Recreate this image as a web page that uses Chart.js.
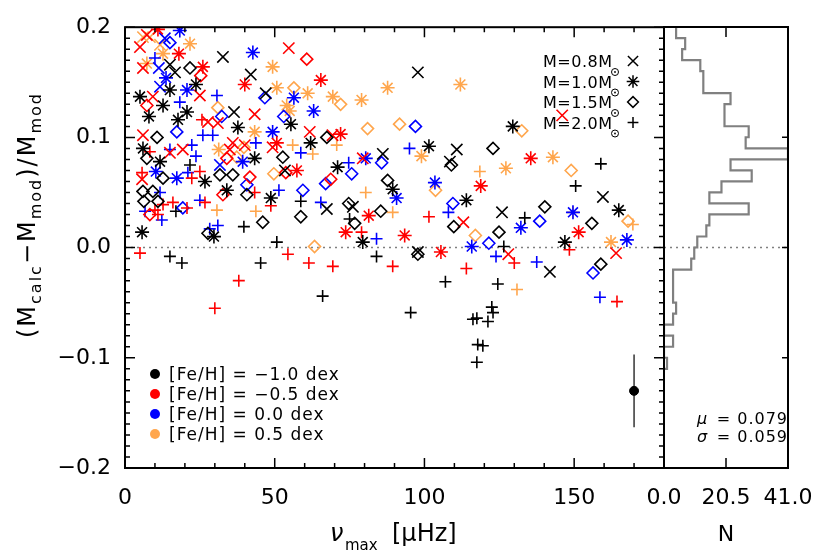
<!DOCTYPE html>
<html>
<head>
<meta charset="utf-8">
<script src="https://cdn.jsdelivr.net/npm/chart.js@4.4.1/dist/chart.umd.min.js"></script>
<style>
  html, body { margin: 0; padding: 0; background: #fff; }
  #wrap { position: relative; width: 830px; height: 553px; }
  .layer { position: absolute; left: 0; top: 0; width: 830px; height: 553px; }
</style>
</head>
<body>
<div id="wrap">
  <div class="layer"><canvas id="mainChart"></canvas></div>
  <div class="layer"><canvas id="histChart"></canvas></div>
</div>
<script>
// [nu_max (muHz), (Mcalc - Mmod)/Mmod] per [Fe/H] and model mass
const fehLabels = ['−1.0', '−0.5', '0.0', '0.5'];
const massLabels = ['0.8', '1.0', '1.5', '2.0'];

// [Fe/H] = -1.0 (black)
const fehM10_m08 = [[32.7,0.173],[15,0.166],[16.7,0.159],[42,0.157],[47,0.140],[36.4,0.123],[97.8,0.159],[86.1,0.085],[110.8,0.089],[108.5,0.078],[53.4,0.070],[67.4,0.035],[76.1,0.037],[97.8,-0.004],[159.6,0.046],[125.9,0.032],[141.9,-0.022]];
const fehM10_m10 = [[5,0.137],[15,0.143],[23.7,0.148],[8,0.119],[20.7,0.123],[17.7,0.116],[37.7,0.109],[6,0.090],[11.7,0.078],[43.3,0.081],[26.7,0.060],[34,0.052],[48.7,0.045],[5.7,0.014],[29.7,0.010],[55.4,0.112],[62,0.095],[71,0.073],[89.4,0.053],[79.4,0.005],[101.5,0.092],[114,0.043],[129.5,0.110],[146.9,0.005],[164.9,0.034],[12.7,0.129]];
const fehM10_m15 = [[21.7,0.163],[10.7,0.100],[7.3,0.081],[12.7,0.063],[31.7,0.066],[36,0.066],[6,0.051],[9.3,0.051],[6.3,0.042],[11,0.042],[40.7,0.048],[46,0.023],[27.7,0.013],[67.4,0.100],[52.7,0.082],[87.7,0.061],[74.7,0.040],[85.4,0.033],[58.7,0.028],[76.7,0.022],[109,0.075],[109.8,0.019],[97.8,-0.006],[122.9,0.090],[140.2,0.037],[124.9,0.014],[155.9,0.022],[158.9,-0.015]];
const fehM10_m20 = [[21.7,0.075],[17,0.033],[39.7,0.019],[50.7,0.005],[15,-0.008],[19,-0.014],[45.3,-0.014],[58.7,0.042],[75,0.026],[66,-0.044],[84,-0.008],[95.4,-0.059],[107,-0.031],[126.5,0.001],[124.5,-0.033],[122.5,-0.054],[122.9,-0.059],[116.2,-0.065],[117.5,-0.064],[121.2,-0.067],[117.8,-0.088],[119.5,-0.089],[117.5,-0.104],[133.5,0.027],[150.5,0.056],[158.9,0.076]];

// [Fe/H] = -0.5 (red)
const fehM05_m08 = [[5,0.182],[7.3,0.193],[6,0.163],[54.7,0.181],[9.3,0.137],[25,0.138],[43.3,0.121],[27.7,0.114],[31,0.113],[6,0.102],[15,0.086],[19.3,0.089],[35,0.089],[36,0.095],[40,0.093],[49.3,0.091],[5.7,0.062],[61.7,0.105],[69.3,0.102],[79.4,0.081],[113,0.023],[128,-0.006],[164,-0.005],[146,0.120]];
const fehM05_m10 = [[11,0.198],[18,0.176],[26,0.164],[40,0.148],[65.4,0.152],[72,0.103],[50.7,0.095],[57.4,0.070],[81.4,0.029],[73.7,0.014],[93.4,0.011],[105.5,-0.004],[135.5,0.081],[118.8,0.056],[151.5,0.014]];
const fehM05_m15 = [[60.7,0.171],[25.3,0.156],[7.3,0.129],[34,0.081],[41.7,0.064],[32.7,0.048],[8.3,0.030],[53.7,0.068],[68.7,0.062]];
const fehM05_m20 = [[25.7,0.116],[8.3,0.087],[5.7,0.068],[25,0.069],[22.3,0.063],[43.3,0.050],[26.7,0.041],[16,0.041],[12.7,0.039],[20.7,0.036],[10,0.034],[11,0.030],[48.7,0.038],[5,-0.005],[38,-0.030],[30,-0.055],[54.4,-0.006],[61.4,-0.014],[69.4,-0.017],[89.4,-0.017],[79,0.014],[101.5,0.028],[114,-0.019],[130,-0.014],[148.4,-0.002],[164.3,-0.049]];

// [Fe/H] = 0.0 (blue)
const feh00_m08 = [[13.3,0.190],[11.3,0.163],[11.7,0.146],[31.7,0.075]];
const feh00_m10 = [[18.3,0.197],[42.7,0.177],[13.7,0.154],[20.7,0.143],[39.3,0.078],[10.3,0.069],[17.3,0.063],[49.3,0.105],[56.4,0.136],[63,0.124],[80.4,0.081],[90.7,0.045],[103.5,0.059],[115.8,0.001],[132.2,0.018],[149.6,0.032],[167.6,0.007]];
const feh00_m15 = [[15,0.186],[46.7,0.136],[32.3,0.119],[17.3,0.105],[40.7,0.057],[19.3,0.036],[53,0.119],[97,0.110],[85.7,0.077],[75.7,0.067],[67,0.058],[59.4,0.052],[109.5,0.040],[138.5,0.024],[121.5,0.004],[156.3,-0.023]];
const feh00_m20 = [[10,0.172],[18.3,0.132],[30.7,0.138],[26,0.102],[29.3,0.102],[15,0.089],[22.3,0.093],[43.7,0.095],[23.7,0.083],[21,0.068],[11.7,0.050],[25,0.043],[6.7,0.033],[12.3,0.025],[28.3,0.017],[31,0.020],[58.7,0.086],[74.7,0.077],[51.4,0.052],[65.4,0.041],[84,0.008],[95,0.090],[108,0.032],[123.9,-0.008],[137.5,-0.013],[158.6,-0.045]];

// [Fe/H] = +0.5 (orange)
const fehP05_m08 = [[6,0.191],[8.3,0.191],[11.7,0.184]];
const fehP05_m10 = [[12.7,0.176],[7.3,0.167],[21.7,0.185],[49.3,0.164],[50.7,0.145],[61,0.140],[69.4,0.137],[79,0.134],[87.7,0.145],[112,0.148],[54,0.129],[55,0.124],[43.3,0.105],[31.3,0.089],[99,0.083],[127.2,0.072],[142.9,0.082],[162.3,0.005]];
const fehP05_m15 = [[56.4,0.145],[72,0.130],[81,0.108],[91.7,0.112],[49.7,0.067],[103.7,0.052],[63.3,0.001],[39.7,0.091],[37.3,0.082],[31,0.127],[132.5,0.106],[149,0.070],[168,0.024],[117,0.011]];
const fehP05_m20 = [[56,0.093],[70.7,0.093],[62.7,0.085],[80.4,0.050],[89.4,0.032],[30.7,0.034],[43.7,0.033],[118.5,0.069],[130.9,-0.038],[169.6,0.021],[149.6,0.032]];

// typical error bar
const errNu = 170;
const errDm = -0.130;
const errSize = 0.033;

// histogram of (Mcalc-Mmod)/Mmod, bins of 0.01, listed by upper edge
const histBinTop = [0.20,0.19,0.18,0.17,0.16,0.15,0.14,0.13,0.12,0.11,0.10,0.09,0.08,0.07,0.06,0.05,0.04,0.03,0.02,0.01,0.00,-0.01,-0.02,-0.03,-0.04,-0.05,-0.06,-0.07,-0.08,-0.09,-0.10];
const histCounts = [4,7,6,12,13,13,22,20,20,28,27,41,22,29,19,15,28,15,14,11,10,9,3,3,3,4,3,0,3,0,1];
const histMean = '0.079';
const histSigma = '0.059';

const FONT = "'DejaVu Sans'";
const fehColors = ['#000000', '#ff0000', '#0000ff', '#ffa64d'];
const massStyles = [
    { style: 'crossRot', radius: 8 },
    { style: 'star', radius: 7 },
    { style: 'rectRot', radius: 6 },
    { style: 'cross', radius: 6 }
];
const groups = [
    [fehM10_m08, fehM10_m10, fehM10_m15, fehM10_m20],
    [fehM05_m08, fehM05_m10, fehM05_m15, fehM05_m20],
    [feh00_m08, feh00_m10, feh00_m15, feh00_m20],
    [fehP05_m08, fehP05_m10, fehP05_m15, fehP05_m20]
];

const scatterSets = [];
groups.forEach((row, f) => {
    row.forEach((arr, m) => {
        scatterSets.push({
            label: '[Fe/H]=' + fehLabels[f] + ' M=' + massLabels[m],
            data: arr.map(p => ({ x: p[0], y: p[1] })),
            pointStyle: massStyles[m].style,
            pointRadius: massStyles[m].radius,
            pointBorderWidth: 1.6,
            borderColor: fehColors[f],
            backgroundColor: 'rgba(0,0,0,0)',
            showLine: false
        });
    });
});

// frame with inward ticks
const framePlugin = {
    id: 'frame',
    afterDatasetsDraw(chart, args, opts) {
        const { ctx, chartArea: a } = chart;
        const x = chart.scales.x, y = chart.scales.y;
        ctx.save();
        ctx.strokeStyle = '#000';
        ctx.lineWidth = 1.5;
        ctx.beginPath();
        (opts.xTicks || []).forEach(t => {
            const px = x.getPixelForValue(t[0]);
            ctx.moveTo(px, a.bottom); ctx.lineTo(px, a.bottom - t[1]);
            ctx.moveTo(px, a.top); ctx.lineTo(px, a.top + t[1]);
        });
        (opts.yTicksLeft || []).forEach(t => {
            const py = y.getPixelForValue(t[0]);
            ctx.moveTo(a.left, py); ctx.lineTo(a.left + t[1], py);
        });
        (opts.yTicksRight || []).forEach(t => {
            const py = y.getPixelForValue(t[0]);
            ctx.moveTo(a.right, py); ctx.lineTo(a.right - t[1], py);
        });
        ctx.stroke();
        ctx.lineWidth = 2;
        ctx.strokeRect(a.left, a.top, a.right - a.left, a.bottom - a.top);
        ctx.restore();
    }
};

function drawRun(ctx, parts, x, y) {
    let cx = x;
    parts.forEach(([t, size, dy, italic]) => {
        ctx.font = (italic ? 'italic ' : '') + size + 'px ' + FONT;
        ctx.fillText(t, cx, y + dy);
        cx += ctx.measureText(t).width;
    });
    return cx;
}

function drawSun(ctx, x, y) {
    ctx.beginPath();
    ctx.arc(x, y, 3.5, 0, Math.PI * 2);
    ctx.lineWidth = 1;
    ctx.stroke();
    ctx.beginPath();
    ctx.arc(x, y, 0.9, 0, Math.PI * 2);
    ctx.fill();
}

const mainText = {
    id: 'mainText',
    afterDraw(chart) {
        const { ctx } = chart;
        ctx.save();
        ctx.fillStyle = '#000';
        ctx.strokeStyle = '#000';
        ctx.textBaseline = 'alphabetic';

        // y title
        ctx.save();
        ctx.translate(35, 338);
        ctx.rotate(-Math.PI / 2);
        ctx.letterSpacing = '2px';
        drawRun(ctx, [['(', 24, 0], ['M', 24, 0], ['calc', 16, 6], ['−', 24, 0], ['M', 24, 0], ['mod', 16, 6], [')', 24, 0], ['/', 24, 0], ['M', 24, 0], ['mod', 16, 6]], 0, 0);
        ctx.restore();

        // x title
        drawRun(ctx, [['ν', 24, 0, true]], 330, 541);
        drawRun(ctx, [['max', 15, 0]], 345, 550);
        drawRun(ctx, [['[μHz]', 24, 0]], 392, 541);

        // mass legend
        ctx.letterSpacing = '0.5px';
        massLabels.forEach((m, i) => {
            const yy = 61 + i * 20.5;
            ctx.font = '16px ' + FONT;
            ctx.fillText('M=' + m + 'M', 543, yy + 6);
            drawSun(ctx, 615, yy + 11);
            ctx.lineWidth = 1.5;
            ctx.fillStyle = 'rgba(0,0,0,0)';
            Chart.helpers.drawPoint(ctx, { pointStyle: massStyles[i].style, radius: massStyles[i].radius * 0.9, borderWidth: 1.5, rotation: 0 }, 633, yy);
            ctx.fillStyle = '#000';
        });

        // [Fe/H] legend
        ctx.letterSpacing = '1px';
        fehLabels.forEach((f, i) => {
            const yy = 374 + i * 20;
            ctx.fillStyle = fehColors[i];
            ctx.beginPath();
            ctx.arc(155, yy, 5, 0, Math.PI * 2);
            ctx.fill();
            ctx.fillStyle = '#000';
            ctx.font = '17px ' + FONT;
            ctx.fillText('[Fe/H] = ' + f + ' dex', 169, yy + 6);
        });
        ctx.restore();
    }
};

const histText = {
    id: 'histText',
    afterDraw(chart) {
        const { ctx, chartArea: a } = chart;
        ctx.save();
        ctx.fillStyle = '#000';
        ctx.font = '22px ' + FONT;
        ctx.textAlign = 'center';
        ctx.fillText('N', (a.left + a.right) / 2, 541);
        ctx.textAlign = 'right';
        ctx.letterSpacing = '1px';
        ctx.font = '16px ' + FONT;
        ctx.fillText('= ' + histMean, a.right, 424);
        ctx.fillText('= ' + histSigma, a.right, 442);
        ctx.textAlign = 'left';
        ctx.font = 'italic 16px ' + FONT;
        ctx.fillText('μ', 697, 424);
        ctx.fillText('σ', 697, 442);
        ctx.restore();
    }
};

const xTicksMain = [];
for (let v = 0; v <= 180; v += 10) xTicksMain.push([v, v % 50 === 0 ? 10 : 5]);
const yTicksMain = [];
for (let i = -20; i <= 20; i++) yTicksMain.push([i / 100, i % 10 === 0 ? 10 : 5]);

const tickFont = { family: FONT, size: 22, weight: 'normal' };

new Chart(document.getElementById('mainChart'), {
    type: 'scatter',
    data: {
        datasets: [
            ...scatterSets,
            {
                type: 'line', data: [{ x: 0, y: 0 }, { x: 180, y: 0 }],
                borderColor: '#808080', borderWidth: 1.5, borderDash: [2, 4],
                pointRadius: 0, showLine: true
            },
            {
                type: 'line', data: [{ x: errNu, y: errDm - errSize }, { x: errNu, y: errDm + errSize }],
                borderColor: '#000', borderWidth: 1.2, pointRadius: 0, showLine: true
            },
            {
                data: [{ x: errNu, y: errDm }], pointStyle: 'circle', pointRadius: 4.5,
                backgroundColor: '#000', borderColor: '#000', showLine: false
            }
        ]
    },
    options: {
        responsive: true,
        maintainAspectRatio: false,
        devicePixelRatio: 1,
        animation: false,
        events: [],
        layout: { padding: { left: 0, right: 166, top: 27, bottom: 0 } },
        scales: {
            x: {
                type: 'linear', min: 0, max: 180,
                grid: { display: false, drawTicks: false },
                border: { display: false },
                ticks: { stepSize: 50, includeBounds: false, font: tickFont, color: '#000', padding: 17, maxRotation: 0 },
                afterFit: s => { s.height = 85; }
            },
            y: {
                type: 'linear', min: -0.2, max: 0.2,
                grid: { display: false, drawTicks: false },
                border: { display: false },
                ticks: {
                    stepSize: 0.1, font: tickFont, color: '#000', padding: 14,
                    callback: v => v.toFixed(1).replace('-', '−')
                },
                afterFit: s => { s.width = 125; }
            }
        },
        plugins: {
            legend: { display: false },
            tooltip: { enabled: false },
            frame: { xTicks: xTicksMain, yTicksLeft: yTicksMain, yTicksRight: yTicksMain }
        }
    },
    plugins: [framePlugin, mainText]
});

// histogram outline, stepped along y
const histLine = [{ x: 0, y: histBinTop[0] }];
histBinTop.forEach((top, i) => {
    histLine.push({ x: histCounts[i], y: top });
    histLine.push({ x: histCounts[i], y: top - 0.01 });
});
histLine.push({ x: 0, y: histBinTop[histBinTop.length - 1] - 0.01 });

new Chart(document.getElementById('histChart'), {
    type: 'scatter',
    data: {
        datasets: [
            {
                type: 'line', data: histLine, borderColor: '#808080', borderWidth: 2.2,
                pointRadius: 0, showLine: true, tension: 0
            },
            {
                type: 'line', data: [{ x: 0, y: 0 }, { x: 41, y: 0 }],
                borderColor: '#808080', borderWidth: 1.5, borderDash: [2, 4],
                pointRadius: 0, showLine: true
            }
        ]
    },
    options: {
        responsive: true,
        maintainAspectRatio: false,
        devicePixelRatio: 1,
        animation: false,
        events: [],
        layout: { padding: { left: 664, right: 42, top: 27, bottom: 0 } },
        scales: {
            x: {
                type: 'linear', min: 0, max: 41,
                grid: { display: false, drawTicks: false },
                border: { display: false },
                ticks: {
                    stepSize: 20.5, font: tickFont, color: '#000', padding: 17, maxRotation: 0,
                    callback: v => v.toFixed(1)
                },
                afterFit: s => { s.height = 85; }
            },
            y: { type: 'linear', min: -0.2, max: 0.2, display: false }
        },
        plugins: {
            legend: { display: false },
            tooltip: { enabled: false },
            frame: { xTicks: [[20.5, 10]], yTicksRight: [[-0.1, 6], [0, 6], [0.1, 6]] }
        }
    },
    plugins: [framePlugin, histText]
});
</script>
</body>
</html>
